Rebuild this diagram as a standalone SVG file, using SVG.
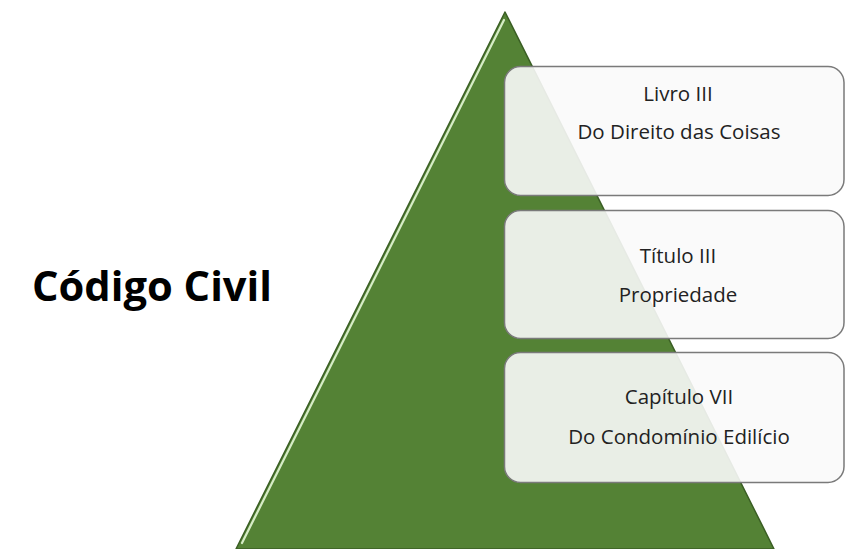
<svg xmlns="http://www.w3.org/2000/svg" width="845" height="549" viewBox="0 0 845 549">
  <style>
    .tier { fill: #fafafa; fill-opacity: 0.9; stroke: #7a7a7a; stroke-width: 1.5; }
    .label { font-family: "Open Sans", "Liberation Sans", sans-serif; font-size: 20.5px; fill: #222222; text-anchor: middle; }
    .title { font-family: "Open Sans", "Liberation Sans", sans-serif; font-size: 42px; font-weight: bold; fill: #000; }
  </style>
  <rect width="845" height="549" fill="#ffffff"/>

  <!-- pyramid -->
  <g id="pyramid">
    <polygon points="505,12 236,549 774,549" fill="#548235" stroke="#3b5f25" stroke-width="1.5" stroke-linejoin="round"/>
    <line x1="504" y1="20" x2="242" y2="543" stroke="#d6ecc6" stroke-width="2.2" stroke-linecap="round"/>
  </g>

  <text id="title" class="title" x="32" y="301" textLength="240" lengthAdjust="spacingAndGlyphs">Código Civil</text>

  <g id="livro">
    <rect class="tier" x="504.5" y="66.5" width="339.5" height="129" rx="16"/>
    <text class="label" x="678" y="101">Livro III</text>
    <text class="label" x="679" y="139">Do Direito das Coisas</text>
  </g>

  <g id="titulo">
    <rect class="tier" x="504.5" y="210.5" width="339.5" height="128" rx="16"/>
    <text class="label" x="678" y="263">Título III</text>
    <text class="label" x="678" y="302">Propriedade</text>
  </g>

  <g id="capitulo">
    <rect class="tier" x="504.5" y="352.5" width="339.5" height="130" rx="16"/>
    <text class="label" x="679" y="404">Capítulo VII</text>
    <text class="label" x="679" y="444">Do Condomínio Edilício</text>
  </g>
</svg>
